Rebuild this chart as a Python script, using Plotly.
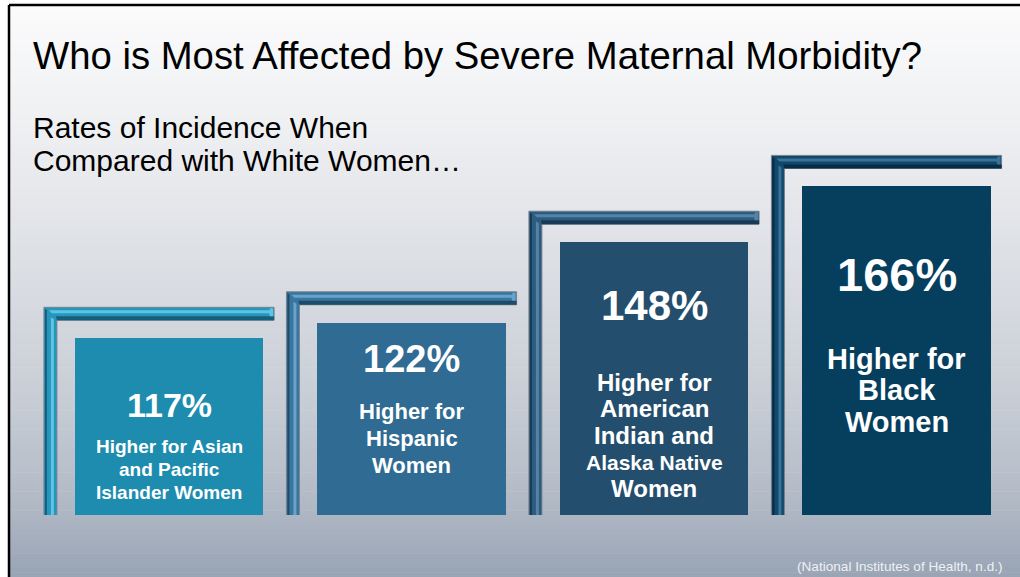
import plotly.graph_objects as go

# ---- data -------------------------------------------------------------
groups = [
    "Asian and Pacific Islander",
    "Hispanic",
    "American Indian and Alaska Native",
    "Black",
]
rates = [117, 122, 148, 166]  # % higher incidence vs. white women
desc_lines = [
    ["Higher for Asian", "and Pacific", "Islander Women"],
    ["Higher for", "Hispanic", "Women"],
    ["Higher for", "American", "Indian and", "Alaska Native", "Women"],
    ["Higher for", "Black", "Women"],
]
title_text = "Who is Most Affected by Severe Maternal Morbidity?"
subtitle_lines = ["Rates of Incidence When", "Compared with White Women\u2026"]
source_text = "(National Institutes of Health, n.d.)"

# ---- page geometry & style -------------------------------------------
W, H = 1020, 577
FONT = "Liberation Sans, Arial, sans-serif"

PX_PER_CAT = 242.5          # horizontal spacing of the columns
FIRST_CAT_PX = 169          # pixel centre of the first column
BAR_WIDTH = 0.776           # in category units
PLOT_BOTTOM_PX = 515        # baseline of the columns
AXIS_FLOOR = 60             # value at the baseline (truncated axis)
PX_PER_UNIT = 3.1           # vertical scale

BAR_COLORS = ["#1E8CAF", "#2F6B92", "#244E6D", "#063E5E"]
FRAME_MAIN = ["#2696BC", "#3876A0", "#2C5C80", "#124869"]
FRAME_LIGHT = ["#5FC3E3", "#6AA2C8", "#5582A5", "#3A7299"]
FRAME_DARK = ["#155F7D", "#1E4B69", "#183A55", "#072D46"]

PCT_SIZE = [34, 38, 42, 47]
DESC_SIZE = [19, 22, 24, 29]
DESC_SIZE_OVERRIDE = {(2, 3): 21}     # the long "Alaska Native" line is set tighter
PCT_Y = [405, 359, 305, 274]          # pixel rows of the text centres
DESC_Y0 = [446, 411.5, 382, 358.5]
DESC_STEP = [23, 27, 26.7, 31.7]

BG_STOPS = [
    (0, (252, 252, 253)),
    (100, (241, 242, 244)),
    (200, (229, 231, 235)),
    (300, (215, 218, 224)),
    (400, (200, 205, 213)),
    (500, (178, 186, 198)),
    (577, (152, 163, 180)),
]


def py(px):
    """pixel row -> paper fraction"""
    return 1 - px / H


def pxx(px):
    """pixel column -> paper fraction"""
    return px / W


def bg_color(px):
    for (p0, c0), (p1, c1) in zip(BG_STOPS[:-1], BG_STOPS[1:]):
        if p0 <= px <= p1:
            t = (px - p0) / (p1 - p0)
            c = [round(a + (b - a) * t) for a, b in zip(c0, c1)]
            return "rgb({},{},{})".format(*c)
    return "rgb({},{},{})".format(*BG_STOPS[-1][1])


x_idx = list(range(len(rates)))

fig = go.Figure()
fig.add_trace(
    go.Bar(
        x=x_idx,
        y=rates,
        width=BAR_WIDTH,
        marker=dict(color=BAR_COLORS, line=dict(width=0)),
        customdata=groups,
        hovertemplate="%{customdata}: %{y}% higher<extra></extra>",
    )
)

shapes = []

# slide background: vertical gradient built from thin strips
BORDER_X, BORDER_Y = 9, 5
n_strips = 120
for k in range(n_strips):
    p0 = BORDER_Y + (H - BORDER_Y) * k / n_strips
    p1 = BORDER_Y + (H - BORDER_Y) * (k + 1) / n_strips
    shapes.append(dict(
        type="rect", xref="paper", yref="paper", layer="below",
        x0=pxx(BORDER_X), x1=1, y0=py(p1 + 0.6), y1=py(p0),
        fillcolor=bg_color((p0 + p1) / 2), line=dict(width=0),
    ))

# slide frame (top and left edges)
shapes.append(dict(type="line", xref="paper", yref="paper", layer="above",
                   x0=pxx(BORDER_X), x1=1, y0=py(BORDER_Y), y1=py(BORDER_Y),
                   line=dict(color="black", width=2.5)))
shapes.append(dict(type="line", xref="paper", yref="paper", layer="above",
                   x0=pxx(BORDER_X), x1=pxx(BORDER_X), y0=0, y1=py(BORDER_Y),
                   line=dict(color="black", width=2.5)))

# bevelled L-frames hugging the top-left of every column
half_px = BAR_WIDTH * PX_PER_CAT / 2
L = -half_px - 31       # outer left edge
R = half_px + 11        # right end of the top arm
Y = 31                  # outer top edge above the column top
T = 13                  # arm thickness
BOT = -700              # runs down past the baseline (clipped)


def frame_shape(i, path, fill, line=None):
    return dict(
        type="path", xref="x", yref="y",
        xsizemode="pixel", ysizemode="pixel",
        xanchor=x_idx[i], yanchor=rates[i],
        path=path, fillcolor=fill,
        line=line or dict(width=0), layer="above",
    )


for i in x_idx:
    outline = f"M{L},{Y} L{R},{Y} L{R},{Y - T} L{L + T},{Y - T} L{L + T},{BOT} L{L},{BOT} Z"
    shapes.append(frame_shape(i, outline, FRAME_MAIN[i],
                              dict(color="rgba(120,128,140,0.9)", width=1)))
    # dark lower lip of the top arm
    shapes.append(frame_shape(
        i, f"M{L + T - 1},{Y - T + 4} L{R},{Y - T + 4} L{R},{Y - T} L{L + T},{Y - T} Z",
        FRAME_DARK[i]))
    # soft highlight along the top arm
    shapes.append(frame_shape(
        i, f"M{L + 5},{Y - 3} L{R - 4},{Y - 3} L{R - 4},{Y - 6} L{L + 8},{Y - 6} Z",
        FRAME_LIGHT[i]))
    # highlight and dark edge down the left arm
    shapes.append(frame_shape(
        i, f"M{L + 7},{Y - 10} L{L + 10},{Y - 12} L{L + 10},{BOT} L{L + 7},{BOT} Z",
        FRAME_LIGHT[i]))
    shapes.append(frame_shape(
        i, f"M{L + 1},{Y - 1} L{L + 3},{Y - 3} L{L + 3},{BOT} L{L + 1},{BOT} Z",
        FRAME_DARK[i]))
    # rounded cap at the end of the top arm
    shapes.append(frame_shape(
        i, f"M{R - 4},{Y - 1} Q{R - 6},{Y - T / 2} {R - 4},{Y - T + 4} L{R - 1},{Y - T + 4} L{R - 1},{Y - 1} Z",
        FRAME_LIGHT[i]))

annotations = []

annotations.append(dict(
    text=title_text, xref="paper", yref="paper", x=pxx(31), y=py(56),
    xanchor="left", yanchor="middle", showarrow=False,
    font=dict(family=FONT, size=38.3, color="black"),
))
for j, line in enumerate(subtitle_lines):
    annotations.append(dict(
        text=line, xref="paper", yref="paper", x=pxx(31), y=py(127.5 + 33 * j),
        xanchor="left", yanchor="middle", showarrow=False,
        font=dict(family=FONT, size=30, color="black"),
    ))

for i in x_idx:
    annotations.append(dict(
        text=f"<b>{rates[i]}%</b>", xref="x", yref="paper",
        x=x_idx[i], y=py(PCT_Y[i]), xanchor="center", yanchor="middle",
        showarrow=False, font=dict(family=FONT, size=PCT_SIZE[i], color="white"),
    ))
    for j, line in enumerate(desc_lines[i]):
        size = DESC_SIZE_OVERRIDE.get((i, j), DESC_SIZE[i])
        annotations.append(dict(
            text=f"<b>{line}</b>", xref="x", yref="paper",
            x=x_idx[i], y=py(DESC_Y0[i] + DESC_STEP[i] * j),
            xanchor="center", yanchor="middle", showarrow=False,
            font=dict(family=FONT, size=size, color="white"),
        ))

annotations.append(dict(
    text=source_text, xref="paper", yref="paper", x=pxx(1005), y=py(566),
    xanchor="right", yanchor="middle", showarrow=False,
    font=dict(family=FONT, size=13.6, color="#EEF1F5"),
))

plot_h = PLOT_BOTTOM_PX
x_lo = -FIRST_CAT_PX / PX_PER_CAT
x_hi = (W - FIRST_CAT_PX) / PX_PER_CAT

fig.update_layout(
    width=W, height=H,
    margin=dict(l=0, r=0, t=0, b=0, pad=0),
    paper_bgcolor="white",
    plot_bgcolor="rgba(0,0,0,0)",
    showlegend=False,
    xaxis=dict(visible=False, range=[x_lo, x_hi], domain=[0, 1], fixedrange=True),
    yaxis=dict(visible=False, domain=[(H - PLOT_BOTTOM_PX) / H, 1],
               range=[AXIS_FLOOR, AXIS_FLOOR + plot_h / PX_PER_UNIT], fixedrange=True),
    shapes=shapes,
    annotations=annotations,
    bargap=0,
)

fig.write_html("out.html")
